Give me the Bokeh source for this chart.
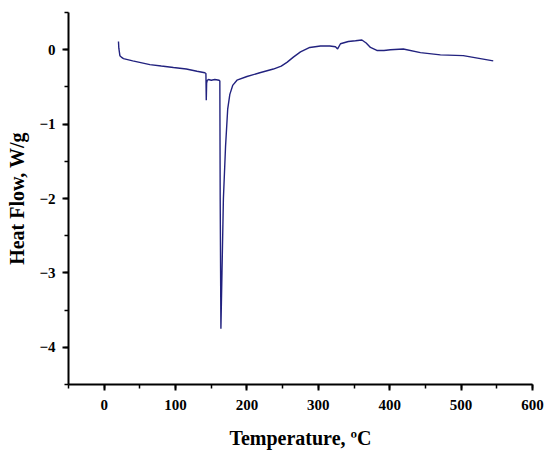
from bokeh.plotting import figure
from bokeh.models import SingleIntervalTicker, Range1d
from bokeh.embed import file_html
from bokeh.resources import INLINE

temperature = [20, 20.5, 22, 24, 27, 40, 64, 80, 97, 115, 130, 141, 142.5, 143, 143.5, 144.5, 146, 150, 155, 161, 162, 162.5, 163.5,
               165, 167, 170, 173, 176, 180, 186, 200, 218, 237, 248, 256, 265, 275, 288, 303, 316, 324, 327, 331, 342, 352,
               361, 367, 373, 382, 392, 401, 419, 443, 471, 503, 527, 545]
heat_flow = [0.11, 0.02, -0.08, -0.10, -0.12, -0.15, -0.20, -0.22, -0.24, -0.26, -0.29, -0.31, -0.32, -0.68, -0.45, -0.41, -0.40, -0.41, -0.40, -0.41,
             -0.42, -2.0, -3.75, -3.0, -2.0, -1.3, -0.8, -0.6, -0.48, -0.41, -0.36, -0.31, -0.26, -0.22, -0.17, -0.10, -0.03, 0.03, 0.05,
             0.05, 0.04, 0.01, 0.08, 0.11, 0.12, 0.13, 0.09, 0.03, -0.01, -0.01, 0.0, 0.01, -0.04, -0.07, -0.08, -0.12, -0.15]

x_ticks_label = "Temperature, ºC"
y_ticks_label = "Heat Flow, W/g"

p = figure(width=550, height=455, output_backend="svg", toolbar_location=None,
           x_range=Range1d(-50, 600), y_range=Range1d(-4.5, 0.5),
           min_border_left=68, min_border_right=18, min_border_top=12, min_border_bottom=71)
p.outline_line_color = None
p.xgrid.grid_line_color = None
p.ygrid.grid_line_color = None
p.background_fill_color = "white"

p.line(temperature, heat_flow, line_color="#22227f", line_width=1.4)

font = "Liberation Serif"
for ax in (p.xaxis[0], p.yaxis[0]):
    ax.axis_line_width = 2
    ax.axis_line_color = "black"
    ax.major_tick_line_width = 2
    ax.minor_tick_line_width = 1.5
    ax.major_tick_in = 0
    ax.major_tick_out = 6
    ax.minor_tick_in = 0
    ax.minor_tick_out = 4
    ax.major_label_text_font = font
    ax.major_label_text_font_style = "bold"
    ax.major_label_text_font_size = "15px"
    ax.major_label_text_color = "black"
    ax.axis_label_text_font = font
    ax.axis_label_text_font_style = "bold"
    ax.axis_label_text_font_size = "20px"
    ax.axis_label_text_color = "black"

p.xaxis.ticker = SingleIntervalTicker(interval=100, num_minor_ticks=2)
p.yaxis.ticker = SingleIntervalTicker(interval=1, num_minor_ticks=2)
p.yaxis.major_label_overrides = {-1: "\u22121", -2: "\u22122", -3: "\u22123", -4: "\u22124"}
p.xaxis.axis_label = x_ticks_label
p.yaxis.axis_label = y_ticks_label
p.xaxis.major_label_standoff = 9
p.yaxis.major_label_standoff = 7
p.xaxis.axis_label_standoff = 14
p.yaxis.axis_label_standoff = 8

open("out.html", "w").write(file_html(p, INLINE))
